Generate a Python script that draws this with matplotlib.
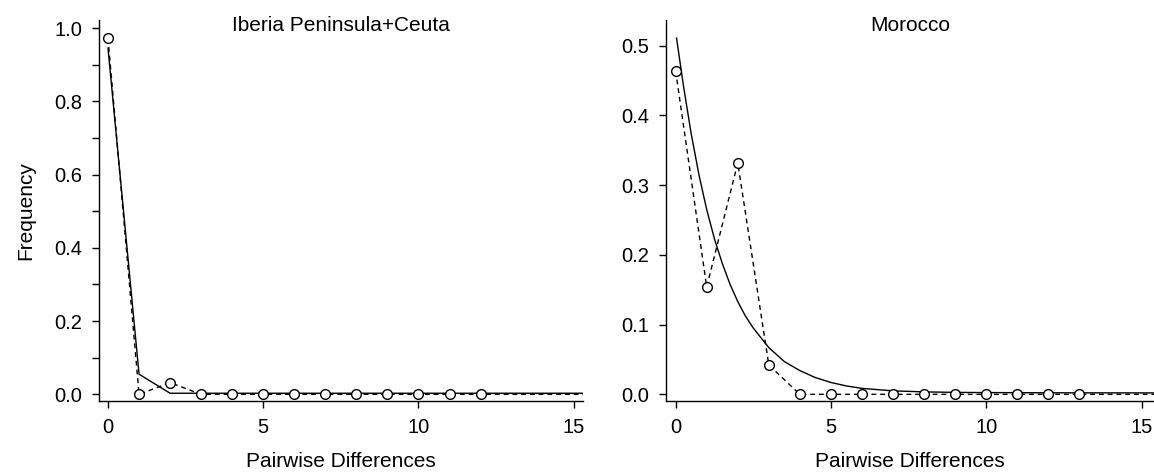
import numpy as np
import matplotlib
matplotlib.use('Agg')
import matplotlib.pyplot as plt
from matplotlib.ticker import MultipleLocator

plt.rcParams['font.family'] = ['Liberation Sans', 'DejaVu Sans']

# Iberia Peninsula+Ceuta
ib_x = list(range(17))
ib_obs = [0.972, 0.0, 0.032, 0, 0, 0, 0, 0, 0, 0, 0, 0, 0, 0, 0, 0, 0]
ib_exp = [0.945, 0.055, 0.003, 0.003, 0.003, 0.003, 0.003, 0.003, 0.003,
          0.003, 0.003, 0.003, 0.003, 0.003, 0.003, 0.003, 0.003]
ib_npts = 13

# Morocco
mo_x = list(range(17))
mo_obs = [0.464, 0.154, 0.332, 0.042, 0, 0, 0, 0, 0, 0, 0, 0, 0, 0, 0, 0, 0]
mo_npts = 14
mo_exp_x = [0.03, 0.25, 0.5, 0.75, 1.0, 1.25, 1.5, 1.75, 2.0, 2.25, 2.5, 3.0,
            3.5, 4.0, 4.5, 5.0, 5.5, 6.0, 7.0, 8.0, 9.0, 10.0, 12.0, 16.0]
mo_exp = [0.511, 0.443, 0.374, 0.315, 0.265, 0.223, 0.188, 0.158, 0.133,
          0.112, 0.095, 0.067, 0.047, 0.034, 0.024, 0.017, 0.012, 0.0085,
          0.0050, 0.0035, 0.0028, 0.0025, 0.0022, 0.002]

fig = plt.figure(figsize=(11.54, 4.72), dpi=100)
ax1 = fig.add_axes([99/1154, 70.7/472, 484/1154, 381.3/472])
ax2 = fig.add_axes([665.7/1154, 70.7/472, 488.3/1154, 381.3/472])

dash = (0, (3.5, 2.8))
mk = dict(marker='o', markersize=7, markerfacecolor='white',
          markeredgecolor='black', markeredgewidth=1.0)

ax1.plot(ib_x, ib_exp, color='black', lw=1.0)
ax1.plot(ib_x, ib_obs, color='black', lw=1.0, ls=dash,
         markevery=list(range(ib_npts)), **mk)
ax1.set_xlim(-0.29, 15.3)
ax1.set_ylim(-0.019, 1.022)
ax1.yaxis.set_major_locator(MultipleLocator(0.2))
ax1.yaxis.set_minor_locator(MultipleLocator(0.1))
ax1.set_ylabel('Frequency', fontsize=15, labelpad=14)
ax1.text(0.5, 0.985, 'Iberia Peninsula+Ceuta', transform=ax1.transAxes,
         ha='center', va='center', fontsize=15)

ax2.plot(mo_exp_x, mo_exp, color='black', lw=1.0)
ax2.plot(mo_x, mo_obs, color='black', lw=1.0, ls=dash,
         markevery=list(range(mo_npts)), **mk)
ax2.set_xlim(-0.32, 15.4)
ax2.set_ylim(-0.010, 0.537)
ax2.yaxis.set_major_locator(MultipleLocator(0.1))
ax2.text(0.5, 0.985, 'Morocco', transform=ax2.transAxes,
         ha='center', va='center', fontsize=15)

for ax in (ax1, ax2):
    ax.spines['top'].set_visible(False)
    ax.spines['right'].set_visible(False)
    ax.xaxis.set_major_locator(MultipleLocator(5))
    ax.yaxis.set_major_formatter(matplotlib.ticker.FormatStrFormatter('%.1f'))
    ax.tick_params(which='both', length=5, width=1, labelsize=14.5, pad=7)
    ax.set_xlabel('Pairwise Differences', fontsize=15, labelpad=11)
    for s in ax.spines.values():
        s.set_linewidth(1.0)

fig.savefig('out.png', dpi=100)
